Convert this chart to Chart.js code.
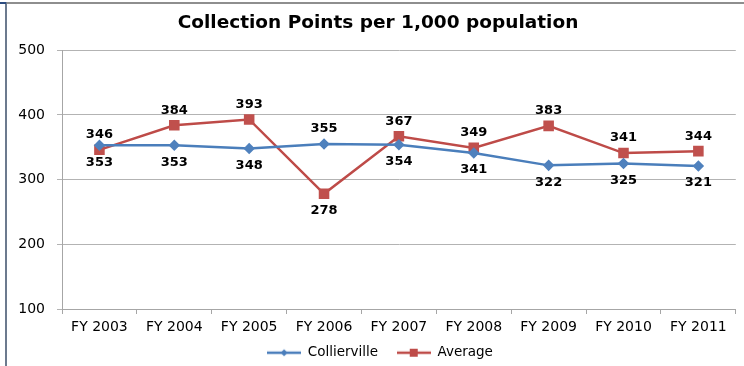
<!DOCTYPE html>
<html>
<head>
<meta charset="utf-8">
<script src="https://cdn.jsdelivr.net/npm/chart.js@4/dist/chart.umd.min.js"></script>
<style>
  body { margin: 0; background: #fff; }
  #wrap { position: absolute; left: 0; top: 0; width: 744px; height: 366px; }
  #frameTop { position: absolute; left: 5px; top: 2px; width: 739px; height: 0; border-top: 2px solid #8e8e8e; }
  #frameLeft { position: absolute; left: 5px; top: 2px; width: 0; height: 364px; border-left: 2px solid #6c7a8e; }
  #corner { position: absolute; left: 0; top: 2px; width: 6px; height: 2px; background: #2d4c80; }
</style>
</head>
<body>
<div id="wrap">
  <canvas id="chart" width="744" height="366"></canvas>
</div>
<div id="frameTop"></div>
<div id="frameLeft"></div>
<div id="corner"></div>
<script>
var years = ["FY 2003", "FY 2004", "FY 2005", "FY 2006", "FY 2007", "FY 2008", "FY 2009", "FY 2010", "FY 2011"];
var collierville = [353, 353, 348, 355, 354, 341, 322, 325, 321];
var average = [346, 384, 393, 278, 367, 349, 383, 341, 344];
var yTicks = [100, 200, 300, 400, 500];

var blue = "#4a7ebb";
var red = "#be4b48";

// little line+marker pictures for the legend, like Excel draws them
function legendImage(color, shape)
{
    var c = document.createElement("canvas");
    c.width = 34;
    c.height = 10;
    var g = c.getContext("2d");
    g.strokeStyle = color;
    g.lineWidth = 2.5;
    g.beginPath();
    g.moveTo(0, 5);
    g.lineTo(34, 5);
    g.stroke();
    g.fillStyle = color;
    if (shape == "rect")
    {
        g.fillRect(13, 1, 8, 8);
    }
    else
    {
        g.beginPath();
        g.moveTo(17, 1.5);
        g.lineTo(20.5, 5);
        g.lineTo(17, 8.5);
        g.lineTo(13.5, 5);
        g.closePath();
        g.fill();
    }
    return c;
}

var valueLabels = {
    id: "valueLabels",
    afterDatasetsDraw: function(chart)
    {
        var ctx = chart.ctx;
        ctx.save();
        ctx.font = "bold 13px 'DejaVu Sans'";
        ctx.fillStyle = "#000";
        ctx.textAlign = "center";
        ctx.textBaseline = "middle";
        chart.data.datasets.forEach(function(ds, i)
        {
            var meta = chart.getDatasetMeta(i);
            meta.data.forEach(function(pt, j)
            {
                var avgAbove = average[j] >= collierville[j] - 10;
                var above = (i == 1) ? avgAbove : !avgAbove;
                ctx.fillText(ds.data[j], pt.x, pt.y + (above ? -15 : 17));
            });
        });
        ctx.restore();
    }
};

// title and legend sit a bit right of centre in the original
var nudge = {
    id: "nudge",
    afterLayout: function(chart)
    {
        chart.legend.left += 12;
        chart.legend.right += 12;
        chart.titleBlock.left += 10;
        chart.titleBlock.right += 10;
    }
};

var ctx = document.getElementById("chart").getContext("2d");
var chart = new Chart(ctx, {
    type: "line",
    data: {
        labels: years,
        datasets: [{
            label: "Collierville",
            data: collierville,
            borderColor: blue,
            backgroundColor: "#4f81bd",
            pointBackgroundColor: "#4f81bd",
            pointBorderColor: "#4f81bd",
            pointStyle: "rectRot",
            pointRadius: 4,
            borderWidth: 2.5,
            fill: false,
            tension: 0
        }, {
            label: "Average",
            data: average,
            borderColor: red,
            backgroundColor: "#c0504d",
            pointBackgroundColor: "#c0504d",
            pointBorderColor: "#c0504d",
            pointStyle: "rect",
            pointRadius: 5.7,
            borderWidth: 2.5,
            fill: false,
            tension: 0
        }]
    },
    options: {
        responsive: false,
        animation: false,
        layout: { padding: { left: 0, right: 8, top: 0, bottom: 0 } },
        plugins: {
            title: {
                display: true,
                text: "Collection Points per 1,000 population",
                color: "#000",
                font: { family: "'DejaVu Sans'", size: 18.5, weight: "bold" },
                padding: { top: 12, bottom: 16 }
            },
            legend: {
                position: "bottom",
                maxHeight: 30,
                labels: {
                    usePointStyle: true,
                    pointStyleWidth: 34,
                    boxHeight: 10,
                    padding: 10,
                    color: "#000",
                    font: { family: "'DejaVu Sans'", size: 13.5 },
                    generateLabels: function(chart)
                    {
                        return chart.data.datasets.map(function(ds, i)
                        {
                            return {
                                text: ds.label + (i == 0 ? "  " : ""),
                                pointStyle: legendImage(ds.borderColor, i == 1 ? "rect" : "diamond"),
                                fillStyle: ds.borderColor,
                                strokeStyle: ds.borderColor,
                                lineWidth: 0,
                                fontColor: "#000",
                                datasetIndex: i
                            };
                        });
                    }
                }
            },
            tooltip: { enabled: false }
        },
        scales: {
            x: {
                offset: true,
                grid: {
                    offset: true,
                    drawOnChartArea: false,
                    drawTicks: true,
                    tickLength: 5,
                    color: "#a6a6a6"
                },
                border: { color: "#a6a6a6", width: 1 },
                ticks: {
                    color: "#000",
                    padding: 5,
                    maxRotation: 0,
                    autoSkip: false,
                    font: { family: "'DejaVu Sans'", size: 14 }
                },
                afterFit: function(scale) { scale.height = 27; }
            },
            y: {
                min: 100,
                max: 500,
                afterBuildTicks: function(scale)
                {
                    scale.ticks = yTicks.map(function(v) { return { value: v }; });
                },
                grid: {
                    color: "#b3b3b3",
                    tickLength: 5,
                    drawTicks: true
                },
                border: { color: "#a6a6a6", width: 1 },
                ticks: {
                    color: "#000",
                    padding: 12,
                    font: { family: "'DejaVu Sans'", size: 14 }
                },
                afterFit: function(scale) { scale.width = 62; }
            }
        }
    },
    plugins: [valueLabels, nudge]
});
</script>
</body>
</html>
